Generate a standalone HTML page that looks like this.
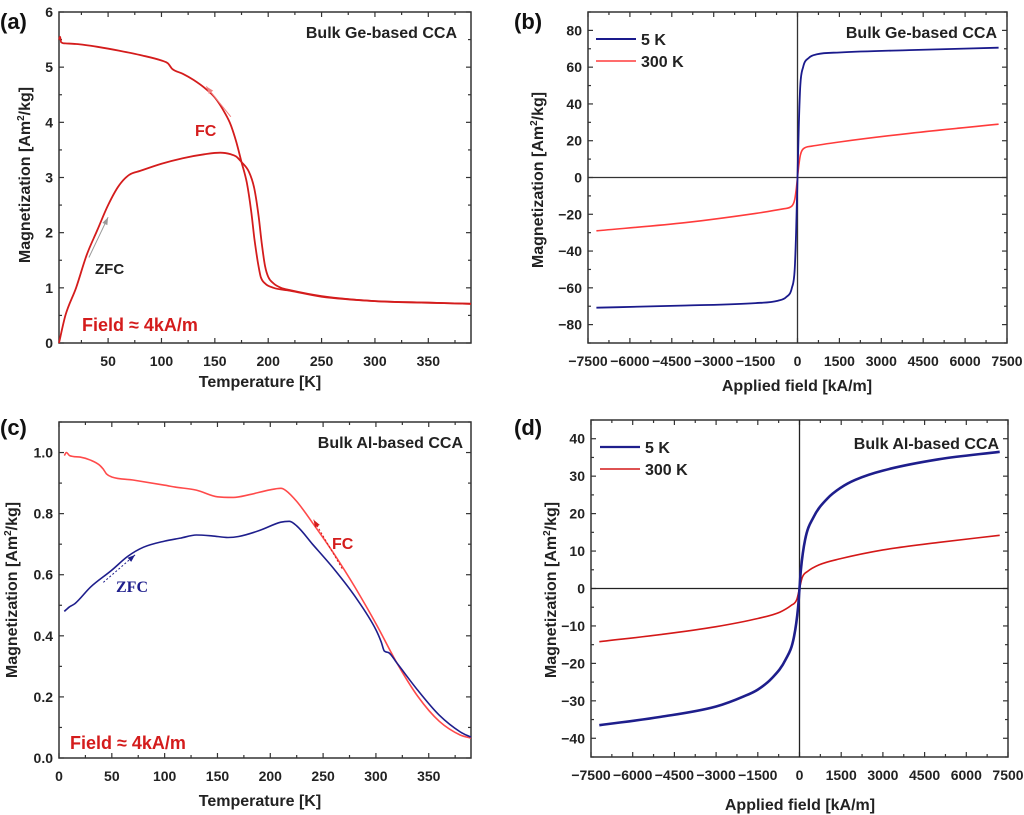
<!DOCTYPE html>
<html><head><meta charset="utf-8">
<style>
html,body{margin:0;padding:0;background:#fff;}
svg{display:block;font-family:"Liberation Sans",sans-serif;font-weight:bold;}
</style></head>
<body>
<svg id="fig" width="1024" height="815" viewBox="0 0 1024 815" xmlns="http://www.w3.org/2000/svg"></svg>
<script>
// ---- Panel (a) data ----
const aFcT = [4,5,6,10,20,40,60,80,100,106,110,120,130,140,150,160,165,170,175,180,184,187,190,193,197,205,220,250,300,350,390];
const aFcM = [5.5,5.55,5.45,5.43,5.42,5.37,5.3,5.22,5.12,5.07,4.97,4.88,4.77,4.63,4.45,4.15,3.95,3.65,3.28,2.9,2.4,1.9,1.5,1.2,1.08,1.0,0.95,0.84,0.76,0.73,0.71];
const aZfcT = [4,10,20,30,40,50,60,70,80,100,120,140,155,165,170,175,182,187,191,194,197,200,205,212,220,250,300,350,390];
const aZfcM = [0,0.5,1.0,1.6,2.05,2.5,2.85,3.05,3.12,3.25,3.35,3.42,3.45,3.42,3.38,3.28,3.1,2.8,2.3,1.8,1.4,1.2,1.08,1.0,0.96,0.85,0.76,0.73,0.71];
const aXTicks = [50,100,150,200,250,300,350];
const aYTicks = [0,1,2,3,4,5,6];
// ---- Panel (b) data ----
const bH5 = [-7200,-4000,-1500,-700,-400,-200,-100,-50,0,50,100,200,400,700,1500,4000,7200];
const bM5 = [-70.8,-69.6,-68.3,-67,-65,-60,-50,-30,0,30,50,60,65,67,68,69.3,70.6];
const bH300 = [-7200,-4000,-1500,-500,-200,-100,-50,0,50,100,200,500,1500,4000,7200];
const bM300 = [-29,-24.5,-19.5,-17,-15.5,-12,-7,0,7,12,15.5,17,19.3,24,29];
const bXTicks = [-7500,-6000,-4500,-3000,-1500,0,1500,3000,4500,6000,7500];
const bYTicks = [-80,-60,-40,-20,0,20,40,60,80];
// ---- Panel (c) data ----
const cFcT = [5,7,10,20,30,38,42,45,50,70,100,110,130,150,165,180,200,210,215,225,240,260,280,300,320,340,360,380,390];
const cFcM = [0.99,1.0,0.99,0.985,0.975,0.96,0.945,0.93,0.92,0.91,0.893,0.887,0.877,0.855,0.853,0.862,0.878,0.883,0.875,0.84,0.77,0.67,0.56,0.44,0.31,0.2,0.12,0.075,0.065];
const cZfcT = [5,10,15,30,50,65,80,100,115,130,145,160,170,190,210,218,225,240,260,280,300,305,308,312,320,340,360,380,390];
const cZfcM = [0.48,0.495,0.505,0.56,0.615,0.66,0.69,0.71,0.72,0.73,0.727,0.722,0.725,0.745,0.772,0.775,0.76,0.7,0.62,0.53,0.42,0.38,0.35,0.345,0.31,0.22,0.14,0.085,0.068];
const cXTicks = [0,50,100,150,200,250,300,350];
const cYTicks = [0,0.2,0.4,0.6,0.8,1.0];
// ---- Panel (d) data ----
const dH5 = [-7200,-5000,-3000,-2000,-1500,-1000,-500,-200,-50,0,50,200,500,1000,1500,2000,3000,5000,7200];
const dM5 = [-36.5,-34.3,-31.5,-28.8,-27,-24,-19,-13,-5,0,5,13,19,24,27,29,31.5,34.5,36.5];
const dH300 = [-7200,-5000,-3000,-1500,-700,-300,-100,0,100,300,700,1500,3000,5000,7200];
const dM300 = [-14.2,-12.3,-10.2,-8,-6.3,-4.5,-3,0,3,4.6,6.3,8,10.3,12.3,14.2];
const dXTicks = bXTicks;
const dYTicks = [-40,-30,-20,-10,0,10,20,30,40];

const NS = "http://www.w3.org/2000/svg";
const svg = document.getElementById('fig');
function mk(tag, attrs, parent, text){
  const e = document.createElementNS(NS, tag);
  for (const k in attrs) e.setAttribute(k, attrs[k]);
  if (text !== undefined) e.textContent = text;
  (parent || svg).appendChild(e);
  return e;
}
function panel(id, L, R, T, B, x0, x1, y0, y1){
  const g = mk('g', {});
  
  
  return {g, sx: v => L + (v - x0) / (x1 - x0) * (R - L), sy: v => B - (v - y0) / (y1 - y0) * (B - T), L, R, T, B};
}
function frame(p, xt, yt, xMinor, yMinor, fmtY, x0, x1, y0, y1){
  const fr = mk('rect', {x:p.L, y:p.T, width:p.R-p.L, height:p.B-p.T, fill:'none', stroke:'#333', 'stroke-width':1.5}, p.g);
  
  
  for (let v = Math.ceil(x0 / xMinor) * xMinor; v <= x1 + 1e-9; v += xMinor) {
    const x = p.sx(v); const major = xt.some(t => Math.abs(t - v) < 1e-6); const len = major ? 5 : 3;
    mk('line', {x1:x, x2:x, y1:p.B, y2:p.B-len, stroke:'#333', 'stroke-width':1.2}, p.g);
    mk('line', {x1:x, x2:x, y1:p.T, y2:p.T+len, stroke:'#333', 'stroke-width':1.2}, p.g);
  }
  for (let v = Math.ceil(y0 / yMinor) * yMinor; v <= y1 + 1e-9; v += yMinor) {
    const y = p.sy(v); const major = yt.some(t => Math.abs(t - v) < 1e-6); const len = major ? 5 : 3;
    mk('line', {x1:p.L, x2:p.L+len, y1:y, y2:y, stroke:'#333', 'stroke-width':1.2}, p.g);
    mk('line', {x1:p.R, x2:p.R-len, y1:y, y2:y, stroke:'#333', 'stroke-width':1.2}, p.g);
  }
  xt.forEach(v => {
    const t = mk('text', {x:p.sx(v), y:p.B+23, 'text-anchor':'middle', 'font-size':14, fill:'#222'}, p.g, String(v).replace('-', '\u2212'));
    
    
  });
  yt.forEach(v => {
    const t = mk('text', {x:p.L-6, y:p.sy(v)+5, 'text-anchor':'end', 'font-size':14, fill:'#222'}, p.g, fmtY(v));
    
    
  });
}
// monotone cubic (Fritsch-Carlson) path
function series(p, xs, ys, color, w, name){
  const n = xs.length, dk = [], m = [];
  for (let i = 0; i < n - 1; i++) dk.push((ys[i+1] - ys[i]) / (xs[i+1] - xs[i]));
  m[0] = dk[0]; m[n-1] = dk[n-2];
  for (let i = 1; i < n - 1; i++) m[i] = (dk[i-1] * dk[i] <= 0) ? 0 : (dk[i-1] + dk[i]) / 2;
  for (let i = 0; i < n - 1; i++) {
    if (dk[i] === 0) { m[i] = 0; m[i+1] = 0; continue; }
    const a = m[i] / dk[i], b = m[i+1] / dk[i], s = a*a + b*b;
    if (s > 9) { const t = 3 / Math.sqrt(s); m[i] = t*a*dk[i]; m[i+1] = t*b*dk[i]; }
  }
  let d = 'M' + p.sx(xs[0]).toFixed(1) + ',' + p.sy(ys[0]).toFixed(1);
  for (let i = 0; i < n - 1; i++) {
    const h = xs[i+1] - xs[i];
    d += 'C' + p.sx(xs[i] + h/3).toFixed(1) + ',' + p.sy(ys[i] + m[i]*h/3).toFixed(1) + ' ' +
         p.sx(xs[i+1] - h/3).toFixed(1) + ',' + p.sy(ys[i+1] - m[i+1]*h/3).toFixed(1) + ' ' +
         p.sx(xs[i+1]).toFixed(1) + ',' + p.sy(ys[i+1]).toFixed(1);
  }
  const e = mk('path', {d, fill:'none', stroke:color, 'stroke-width':w, 'stroke-linejoin':'round'}, p.g);
  
  
}
function label(p, x, y, txt, size, color, name, anchor, extra){
  const e = mk('text', Object.assign({x, y, 'font-size':size, fill:color, 'text-anchor':anchor || 'start'}, extra || {}), p.g, txt);
  
  
  return e;
}
function yTitle(p, x, cy){
  const e = mk('text', {x:0, y:0, 'font-size':16, fill:'#222', 'text-anchor':'middle', transform:`translate(${x},${cy}) rotate(-90)`}, p.g);
  e.innerHTML = 'Magnetization [Am<tspan dy="-6" font-size="10">2</tspan><tspan dy="6">/kg]</tspan>';
  
  
}
function arrow(p, xA, yA, xB, yB, color, name, dash){
  const e = mk('line', {x1:p.sx(xA), y1:p.sy(yA), x2:p.sx(xB), y2:p.sy(yB), stroke:color, 'stroke-width':1, 'stroke-dasharray':dash || ''}, p.g);
  
  
  const X = p.sx(xB), Y = p.sy(yB), a = Math.atan2(Y - p.sy(yA), X - p.sx(xA));
  const h = mk('path', {d:`M${X},${Y}L${X-8*Math.cos(a-0.35)},${Y-8*Math.sin(a-0.35)}L${X-8*Math.cos(a+0.35)},${Y-8*Math.sin(a+0.35)}Z`, fill:color}, p.g);
  
  
}
function legend(p, x, y, color, txt, w){
  const l = mk('line', {x1:x, x2:x+40, y1:y, y2:y, stroke:color, 'stroke-width':w}, p.g);
  
  
  label(p, x+45, y+6, txt, 16, '#222', 'legend-entry');
}

// Panel (a)
const pa = panel('a', 59, 471, 12, 343, 4, 390, 0, 6);
frame(pa, aXTicks, aYTicks, 25, 0.5, v => String(v), 4, 390, 0, 6);
series(pa, aZfcT, aZfcM, '#d41c1c', 1.8, 'zfc-curve');
series(pa, aFcT, aFcM, '#d41c1c', 1.8, 'fc-curve');
arrow(pa, 165, 4.1, 142, 4.65, '#f08080', 'fc-arrow');
arrow(pa, 32, 1.55, 50, 2.28, '#999', 'zfc-arrow');
label(pa, 195, 136, 'FC', 16, '#d41c1c', 'fc-label');
label(pa, 95, 274, 'ZFC', 15, '#222', 'zfc-label');
label(pa, 82, 331, 'Field \u2248 4kA/m', 18, '#d41c1c', 'field-label');
label(pa, 457, 38, 'Bulk Ge-based CCA', 16, '#222', 'panel-title', 'end');
label(pa, 0, 29, '(a)', 22, '#111', 'panel-label');
label(pa, 260, 387, 'Temperature [K]', 16, '#222', 'x-axis-title', 'middle');
yTitle(pa, 30, 175);

// Panel (b)
const pb = panel('b', 588, 1007, 12, 343, -7500, 7500, -90, 90);
frame(pb, bXTicks, bYTicks, 750, 10, v => String(v).replace('-', '\u2212'), -7500, 7500, -90, 90);
mk('line', {x1:pb.sx(0), x2:pb.sx(0), y1:pb.T, y2:pb.B, stroke:'#333', 'stroke-width':1.3}, pb.g);
mk('line', {x1:pb.L, x2:pb.R, y1:pb.sy(0), y2:pb.sy(0), stroke:'#333', 'stroke-width':1.3}, pb.g);
series(pb, bH300, bM300, '#ff3b3b', 1.6, 'series-300k');
series(pb, bH5, bM5, '#1a1a8c', 1.8, 'series-5k');
legend(pb, 596, 39, '#1a1a8c', '5 K', 2);
legend(pb, 596, 61, '#ff3b3b', '300 K', 1.6);
label(pb, 997, 38, 'Bulk Ge-based CCA', 16, '#222', 'panel-title', 'end');
label(pb, 514, 29, '(b)', 22, '#111', 'panel-label');
label(pb, 797, 391, 'Applied field [kA/m]', 16, '#222', 'x-axis-title', 'middle');
yTitle(pb, 543, 180);

// Panel (c)
const pc = panel('c', 59, 471, 422, 758, 0, 390, 0, 1.1);
frame(pc, cXTicks, cYTicks, 25, 0.1, v => v.toFixed(1), 0, 390, 0, 1.1);
series(pc, cFcT, cFcM, '#ff4a4a', 1.6, 'fc-curve');
series(pc, cZfcT, cZfcM, '#1e1e8c', 1.6, 'zfc-curve');
arrow(pc, 268, 0.62, 241, 0.78, '#d41c1c', 'fc-arrow', '2,2');
arrow(pc, 42, 0.575, 72, 0.665, '#1e1e8c', 'zfc-arrow', '2,2');
label(pc, 332, 549, 'FC', 16, '#d41c1c', 'fc-label');
label(pc, 116, 592, 'ZFC', 16, '#1e1e8c', 'zfc-label', 'start', {'font-family':'"Liberation Serif",serif'});
label(pc, 70, 749, 'Field \u2248 4kA/m', 18, '#d41c1c', 'field-label');
label(pc, 463, 448, 'Bulk Al-based CCA', 16, '#222', 'panel-title', 'end');
label(pc, 0, 435, '(c)', 22, '#111', 'panel-label');
label(pc, 260, 806, 'Temperature [K]', 16, '#222', 'x-axis-title', 'middle');
yTitle(pc, 17, 590);

// Panel (d)
const pd = panel('d', 591, 1008, 420, 757, -7500, 7500, -45, 45);
frame(pd, dXTicks, dYTicks, 750, 5, v => String(v).replace('-', '\u2212'), -7500, 7500, -45, 45);
mk('line', {x1:pd.sx(0), x2:pd.sx(0), y1:pd.T, y2:pd.B, stroke:'#222', 'stroke-width':1.3}, pd.g);
mk('line', {x1:pd.L, x2:pd.R, y1:pd.sy(0), y2:pd.sy(0), stroke:'#222', 'stroke-width':1.3}, pd.g);
series(pd, dH300, dM300, '#d41818', 1.6, 'series-300k');
series(pd, dH5, dM5, '#1e1e8c', 2.6, 'series-5k');
legend(pd, 600, 447, '#1e1e8c', '5 K', 2.2);
legend(pd, 600, 469, '#d41818', '300 K', 1.6);
label(pd, 999, 449, 'Bulk Al-based CCA', 16, '#222', 'panel-title', 'end');
label(pd, 514, 435, '(d)', 22, '#111', 'panel-label');
label(pd, 800, 810, 'Applied field [kA/m]', 16, '#222', 'x-axis-title', 'middle');
yTitle(pd, 556, 590);
</script>
</body></html>
